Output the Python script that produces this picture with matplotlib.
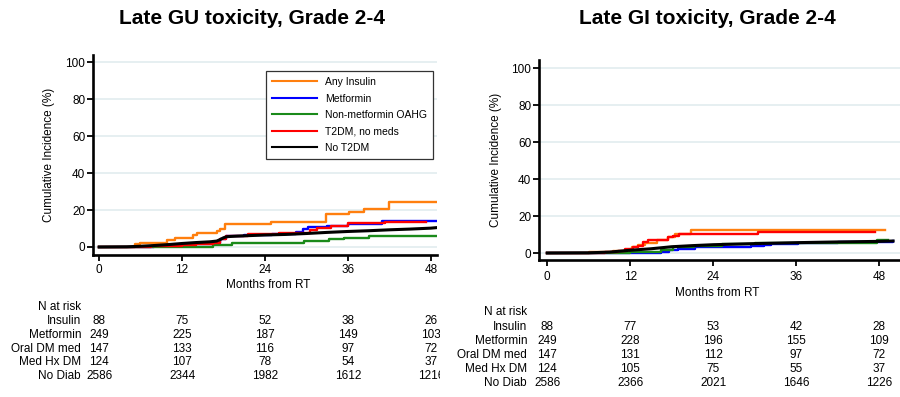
import matplotlib
matplotlib.use("Agg")
import matplotlib.pyplot as plt
from matplotlib.transforms import blended_transform_factory, Bbox, TransformedBbox

plt.rcParams['font.family'] = ['Liberation Sans', 'DejaVu Sans']

# ---- data (months, cumulative incidence %) ----
groups = ["Any Insulin", "Metformin", "Non-metformin OAHG", "T2DM, no meds", "No T2DM"]
colors = ["#ff7f0e", "#0000ff", "#1a8a1a", "#ff0000", "#000000"]

# Late GU
gu_insulin_t = [0, 5.2, 5.9, 9.8, 11.0, 13.6, 14.1, 17.0, 17.5, 18.2, 24.8, 32.8, 36.1, 38.3, 41.9, 48.7]
gu_insulin_y = [0, 1.5, 2.4, 3.6, 5.1, 6.4, 7.6, 8.7, 10.0, 12.2, 13.6, 17.8, 19.1, 20.5, 24.2, 24.2]
gu_metf_t = [0, 8, 11, 14, 16.5, 17.5, 18.3, 21, 25, 28.5, 29.5, 30.2, 33, 36, 41, 48.9]
gu_metf_y = [0, 0.5, 1, 1.5, 2, 4.5, 5.8, 6.5, 7.2, 8, 9.5, 11, 11.6, 12.2, 13.8, 13.8]
gu_oahg_t = [0, 16.5, 19.2, 29.6, 33.2, 35.4, 39, 48.9]
gu_oahg_y = [0, 1.0, 2.0, 3.2, 4.2, 4.8, 5.7, 5.7]
gu_nomed_t = [0, 7.5, 9, 12, 14, 16.5, 17.5, 18.3, 21.5, 26, 30.5, 31.5, 33.5, 36, 41.3, 47.3]
gu_nomed_y = [0, 0.3, 0.8, 1.3, 1.8, 2.3, 4.5, 6, 7, 7.5, 9, 10.5, 11.5, 12.8, 13.5, 13.5]
gu_nodm_t = [0, 4, 6, 8, 10, 12, 14, 16, 17, 17.5, 18, 18.5, 20, 22, 24, 27, 30, 33, 36, 39, 42, 45, 48, 48.9]
gu_nodm_y = [0, 0.1, 0.4, 0.8, 1.3, 1.9, 2.4, 2.8, 3.2, 4.0, 5.0, 5.6, 5.9, 6.2, 6.5, 6.8, 7.3, 7.9, 8.4, 8.8, 9.3, 9.7, 10.2, 10.5]

# Late GI
gi_insulin_t = [0, 6.0, 9.5, 11.2, 12.2, 13.1, 14.1, 15.8, 17.5, 18.4, 20.8, 48.8]
gi_insulin_y = [0, 0.8, 1.2, 1.8, 3.0, 4.3, 5.2, 7.0, 8.5, 10.5, 12.5, 12.5]
gi_metf_t = [0, 16.4, 17.6, 18.9, 21.3, 25.6, 29.5, 31.4, 32.4, 36.2, 42, 50.0]
gi_metf_y = [0, 0.8, 1.5, 2.2, 3.0, 3.3, 3.7, 4.3, 5.0, 5.3, 6.0, 6.5]
gi_oahg_t = [0, 12.0, 16.4, 18.2, 21.2, 25.2, 30, 36.0, 47.7, 49.2]
gi_oahg_y = [0, 0.5, 1.5, 3.0, 4.0, 5.0, 5.3, 5.6, 7.0, 7.0]
gi_nomed_t = [0, 8.3, 10.2, 11.2, 12.4, 13.1, 13.8, 14.6, 17.0, 17.5, 18.2, 19.0, 30.5, 47.4]
gi_nomed_y = [0, 0.5, 1.0, 2.0, 3.0, 4.0, 5.8, 7.0, 7.0, 8.5, 9.0, 10.2, 11.5, 11.5]
gi_nodm_t = [0, 6, 9, 12, 15, 18, 21, 24, 30, 36, 42, 48, 50.0]
gi_nodm_y = [0, 0.1, 0.5, 1.5, 2.3, 3.4, 4.0, 4.5, 5.1, 5.6, 6.0, 6.3, 6.5]

# numbers at risk
risk_times = [0, 12, 24, 36, 48]
risk_labels = ["Insulin", "Metformin", "Oral DM med", "Med Hx DM", "No Diab"]
gu_risk = [[88, 75, 52, 38, 26],
           [249, 225, 187, 149, 103],
           [147, 133, 116, 97, 72],
           [124, 107, 78, 54, 37],
           [2586, 2344, 1982, 1612, 1216]]
gi_risk = [[88, 77, 53, 42, 28],
           [249, 228, 196, 155, 109],
           [147, 131, 112, 97, 72],
           [124, 105, 75, 55, 37],
           [2586, 2366, 2021, 1646, 1226]]

W, H = 900, 397
fig = plt.figure(figsize=(9, 3.97), dpi=100)

def fx(px):
    return px / W

def fy(px):
    return 1 - px / H

def style_axes(ax):
    for s in ["top", "right"]:
        ax.spines[s].set_visible(False)
    for s in ["left", "bottom"]:
        ax.spines[s].set_linewidth(1.9)
    ax.set_yticks([0, 20, 40, 60, 80, 100])
    ax.set_xticks(risk_times)
    ax.tick_params(axis="y", length=4, width=1.3, labelsize=8.5, pad=1.5)
    ax.tick_params(axis="x", length=4, width=1.3, labelsize=8.5, pad=4)
    ax.yaxis.grid(True, color="#e6eff1", linewidth=1.4)
    ax.set_axisbelow(True)
    ax.set_ylabel("Cumulative Incidence (%)", fontsize=8.5)

def draw_curves(ax, curves, with_labels):
    for (t, y), c, lab in zip(curves, colors, groups):
        if c == "#000000":
            # many small events: reads as a near-smooth curve
            ax.plot(t, y, color=c, lw=2.2, label=lab if with_labels else None)
        else:
            ax.plot(t, y, drawstyle="steps-post", color=c, lw=1.7,
                    label=lab if with_labels else None)

# ---- left panel: GU ----
ax1 = fig.add_axes([fx(93), fy(255.3), fx(437 - 93), (255.3 - 54.9) / H])
gu = [(gu_insulin_t, gu_insulin_y), (gu_metf_t, gu_metf_y), (gu_oahg_t, gu_oahg_y),
      (gu_nomed_t, gu_nomed_y), (gu_nodm_t, gu_nodm_y)]
draw_curves(ax1, gu, True)
ax1.set_xlim(-0.9, 48.9)
ax1.set_ylim(-4.5, 104)
style_axes(ax1)
ax1.yaxis.set_label_coords(-0.11, 0.5)
ax1.tick_params(axis="x", labelbottom=False)
leg = ax1.legend(loc="upper right", bbox_to_anchor=(0.988, 0.918), fontsize=7.5,
                 frameon=True, fancybox=False, edgecolor="#333333", framealpha=1,
                 handlelength=4.3, handletextpad=0.8, labelspacing=0.62,
                 borderpad=0.55, borderaxespad=0)
leg.get_frame().set_linewidth(0.9)
for ln in leg.get_lines():
    ln.set_linewidth(1.5)

# ---- right panel: GI ----
ax2 = fig.add_axes([fx(539), fy(260.4), fx(900 - 539), (260.4 - 60) / H])
gi = [(gi_insulin_t, gi_insulin_y), (gi_metf_t, gi_metf_y), (gi_oahg_t, gi_oahg_y),
      (gi_nomed_t, gi_nomed_y), (gi_nodm_t, gi_nodm_y)]
draw_curves(ax2, gi, False)
ax2.set_xlim(-1.2, 51)
ax2.set_ylim(-4, 104.5)
style_axes(ax2)
ax2.yaxis.set_label_coords(-0.103, 0.5)
ax2.tick_params(axis="x", labelbottom=False)

# titles
fig.text(fx(252), fy(19), "Late GU toxicity, Grade 2-4", ha="center", va="center",
         fontsize=15, fontweight="bold")
fig.text(fx(707), fy(19), "Late GI toxicity, Grade 2-4", ha="center", va="center",
         fontsize=15, fontweight="bold")

# tick labels, axis title and number-at-risk table
clip_left = TransformedBbox(Bbox([[0, 0], [fx(440), 1]]), fig.transFigure)

def risk_table(ax, risk, tick_y, xlab_y, head_y, row0_y, dy, lab_x, clip=None):
    tr = blended_transform_factory(ax.transData, fig.transFigure)
    texts = []
    for t in risk_times:
        texts.append(fig.text(t, fy(tick_y), str(t), transform=tr, ha="center",
                              va="center", fontsize=8.5))
    texts.append(fig.text(24.5, fy(xlab_y), "Months from RT", transform=tr, ha="center",
                          va="center", fontsize=8.5))
    texts.append(fig.text(fx(lab_x), fy(head_y), "N at risk", ha="right", va="center",
                          fontsize=8.5))
    for i, (lab, row) in enumerate(zip(risk_labels, risk)):
        yy = fy(row0_y + i * dy)
        texts.append(fig.text(fx(lab_x), yy, lab, ha="right", va="center", fontsize=8.5))
        for t, n in zip(risk_times, row):
            texts.append(fig.text(t, yy, str(n), transform=tr, ha="center", va="center",
                                  fontsize=8.5))
    if clip is not None:
        for tx in texts:
            tx.set_clip_box(clip)
            tx.set_clip_on(True)

risk_table(ax1, gu_risk, 270, 285.5, 307, 321, 13.8, 81, clip=clip_left)
risk_table(ax2, gi_risk, 277, 293, 312, 327, 14, 527)

fig.savefig("out.png", dpi=100)
